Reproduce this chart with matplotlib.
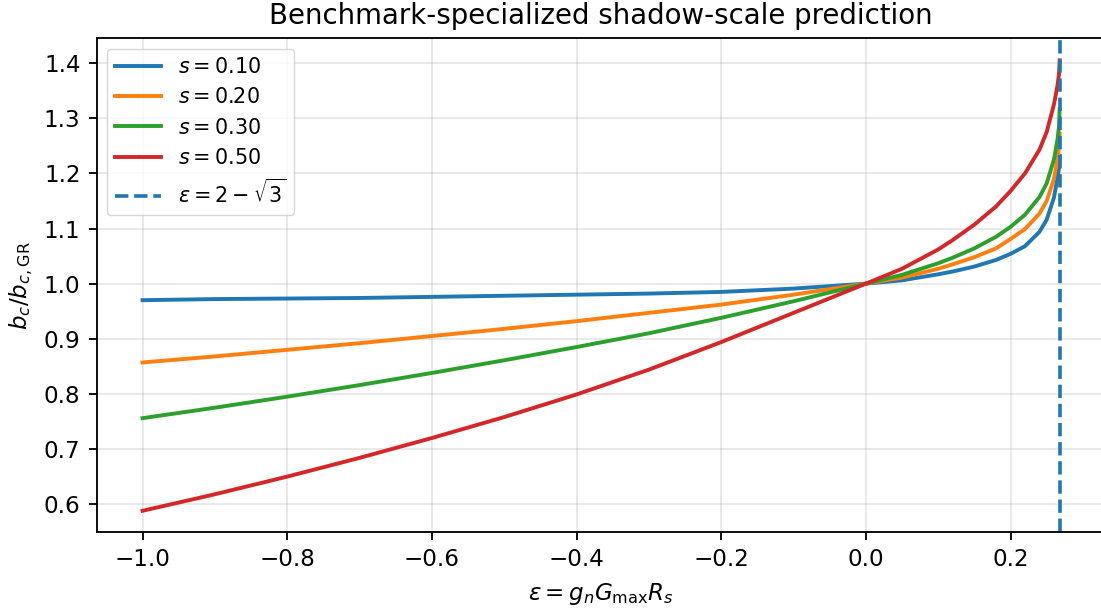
import matplotlib
matplotlib.use("Agg")
import matplotlib.pyplot as plt
import numpy as np

# eps values (common grid)
eps = [-1.0, -0.9, -0.8, -0.7, -0.6, -0.5, -0.4, -0.3, -0.2, -0.1, 0.0,
       0.05, 0.1, 0.12, 0.15, 0.18, 0.2, 0.22, 0.24, 0.25, 0.26, 0.265, 0.267, 0.2679]

ratio_s010 = [0.970, 0.972, 0.973, 0.974, 0.976, 0.978, 0.980, 0.982, 0.985, 0.991, 1.000,
              1.006, 1.017, 1.022, 1.031, 1.043, 1.054, 1.068, 1.094, 1.116, 1.156, 1.192, 1.210, 1.232]
ratio_s020 = [0.857, 0.868, 0.880, 0.892, 0.905, 0.918, 0.932, 0.947, 0.962, 0.980, 1.000,
              1.011, 1.027, 1.035, 1.048, 1.064, 1.081, 1.099, 1.127, 1.150, 1.190, 1.226, 1.248, 1.272]
ratio_s030 = [0.756, 0.775, 0.795, 0.816, 0.838, 0.861, 0.885, 0.910, 0.938, 0.968, 1.000,
              1.016, 1.037, 1.047, 1.064, 1.085, 1.103, 1.125, 1.157, 1.182, 1.225, 1.262, 1.285, 1.317]
ratio_s050 = [0.588, 0.618, 0.650, 0.684, 0.720, 0.758, 0.799, 0.844, 0.894, 0.947, 1.000,
              1.027, 1.062, 1.079, 1.107, 1.140, 1.168, 1.200, 1.243, 1.275, 1.325, 1.360, 1.380, 1.405]

series_labels = ["$s = 0.10$", "$s = 0.20$", "$s = 0.30$", "$s = 0.50$"]
series_values = [ratio_s010, ratio_s020, ratio_s030, ratio_s050]
colors = ["#1f77b4", "#ff7f0e", "#2ca02c", "#d62728"]

eps_crit = 2 - np.sqrt(3)

F = 1.66  # font / line scale relative to matplotlib defaults
plt.rcParams.update({
    "font.size": 10 * F,
    "axes.linewidth": 0.8 * F,
    "xtick.major.size": 3.5 * F, "ytick.major.size": 3.5 * F,
    "xtick.major.width": 0.8 * F, "ytick.major.width": 0.8 * F,
    "xtick.major.pad": 3.5 * F, "ytick.major.pad": 3.5 * F,
    "mathtext.fontset": "dejavusans",
})

W, H = 1101, 610
fig = plt.figure(figsize=(W / 100, H / 100), dpi=100)
left, right, top, bottom = 96.7, 1105.5, 38.3, 532.3
ax = fig.add_axes([left / W, (H - bottom) / H, (right - left) / W, (bottom - top) / H])

for lab, vals, c in zip(series_labels, series_values, colors):
    ax.plot(eps, vals, color=c, lw=2.8, label=lab, solid_joinstyle="round")

ax.axvline(eps_crit, color="#1f77b4", ls="--", lw=2.6, label=r"$\varepsilon = 2 - \sqrt{3}$")

ax.set_xlim(-1.0634, 0.3313)
ax.set_ylim(0.549, 1.445)
ax.grid(True, color="#b0b0b0", alpha=0.3, lw=0.8 * F)
ax.tick_params(labelsize=10 * F)
ax.set_xlabel(r"$\varepsilon = g_n G_{\max} R_s$", fontsize=10 * F, labelpad=4 * F)
ax.set_ylabel(r"$b_c/b_{c,\mathrm{GR}}$", fontsize=10 * F, labelpad=4 * F)
ax.set_title("Benchmark-specialized shadow-scale prediction", fontsize=12 * F, pad=6 * F)
ax.legend(loc="upper left", fontsize=9 * F, handlelength=2.2)

fig.savefig("out.png", dpi=100)
